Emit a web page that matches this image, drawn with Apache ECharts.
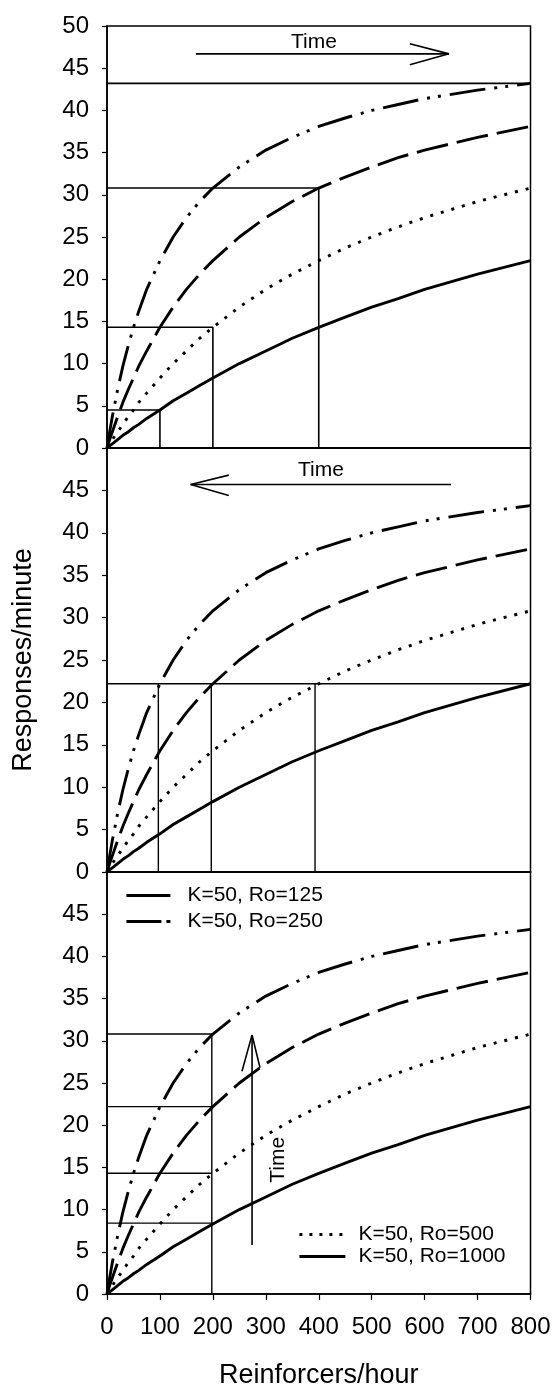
<!DOCTYPE html>
<html>
<head>
<meta charset="utf-8">
<script src="https://cdn.jsdelivr.net/npm/echarts@6/dist/echarts.min.js"></script>
<style>
  html, body { margin: 0; padding: 0; background: #fff; }
  #chart { width: 556px; height: 1391px; }
</style>
</head>
<body>
<div id="chart"></div>
<script>
// Reinforcement rate (reinforcers/hour) at which each curve is sampled
const reinforcers = [0, 5, 10, 20, 30, 40, 50, 60, 75, 100, 125, 150, 175, 200, 250, 300, 350, 400, 450, 500, 550, 600, 700, 800];

// Response rate (responses/minute) for each curve, K = 50
const ro125  = [0, 1.9, 3.7, 6.9, 9.7, 12.1, 14.3, 16.2, 18.8, 22.2, 25.0, 27.3, 29.2, 30.8, 33.3, 35.3, 36.8, 38.1, 39.1, 40.0, 40.7, 41.4, 42.4, 43.2];
const ro250  = [0, 1.0, 1.9, 3.7, 5.4, 6.9, 8.3, 9.7, 11.5, 14.3, 16.7, 18.8, 20.6, 22.2, 25.0, 27.3, 29.2, 30.8, 32.1, 33.3, 34.4, 35.3, 36.8, 38.1];
const ro500  = [0, 0.5, 1.0, 1.9, 2.8, 3.7, 4.5, 5.4, 6.5, 8.3, 10.0, 11.5, 13.0, 14.3, 16.7, 18.8, 20.6, 22.2, 23.7, 25.0, 26.2, 27.3, 29.2, 30.8];
const ro1000 = [0, 0.25, 0.5, 1.0, 1.5, 1.9, 2.4, 2.8, 3.5, 4.5, 5.6, 6.5, 7.4, 8.3, 10.0, 11.5, 13.0, 14.3, 15.5, 16.7, 17.7, 18.8, 20.6, 22.2];

const curveNames = ['K=50, Ro=125', 'K=50, Ro=250', 'K=50, Ro=500', 'K=50, Ro=1000'];

// Guide lines (data coordinates) for each panel
const guidesTop = [
  [[0, 43.2], [800, 43.2]],
  [[0, 30.8], [400, 30.8], [400, 0]],
  [[0, 14.3], [200, 14.3], [200, 0]],
  [[0, 4.5], [100, 4.5], [100, 0]]
];
const guidesMiddle = [
  [[0, 22.2], [800, 22.2]],
  [[97, 22.2], [97, 0]],
  [[197, 22.2], [197, 0]],
  [[393, 22.2], [393, 0]]
];
const guidesBottom = [
  [[0, 30.8], [198, 30.8], [198, 0]],
  [[0, 22.2], [198, 22.2]],
  [[0, 14.3], [198, 14.3]],
  [[0, 8.4], [198, 8.4]]
];

// "Time" arrows: shaft and open head, per panel
const arrowTop = [
  [[168, 46.7], [646, 46.7]],
  [[572, 47.9], [646, 46.7], [572, 45.4]]
];
const arrowMiddle = [
  [[650, 45.7], [158, 45.7]],
  [[230, 46.8], [158, 45.7], [230, 44.4]]
];
const arrowBottom = [
  [[274, 5.8], [274, 30.7]],
  [[255, 26.4], [274, 30.7], [289, 26.8]]
];
const timeLabelTop = [391, 48.1];
const timeLabelMiddle = [404, 47.4];
const timeLabelBottom = [324, 15.9];

const FONT = 'Liberation Sans';
const INK = '#000';

const curveDash = [
  [36, 9, 3, 8, 3, 9],
  [32, 9],
  [3, 8],
  'solid'
];
const curveValues = [ro125, ro250, ro500, ro1000];

function pairs(values) {
  return reinforcers.map((x, i) => [x, values[i]]);
}

const series = [];
[0, 1, 2].forEach(function (g) {
  curveValues.forEach(function (vals, k) {
    series.push({
      name: curveNames[k],
      type: 'line',
      xAxisIndex: g,
      yAxisIndex: g,
      data: pairs(vals),
      symbol: 'none',
      silent: true,
      z: 3,
      itemStyle: { color: INK },
      lineStyle: { color: INK, width: 2.9, type: curveDash[k], cap: 'butt', join: 'round' }
    });
  });
});

function addPolylines(list, g, width) {
  list.forEach(function (pts) {
    series.push({
      type: 'line',
      xAxisIndex: g,
      yAxisIndex: g,
      data: pts,
      symbol: 'none',
      silent: true,
      z: 2,
      itemStyle: { color: INK },
      lineStyle: { color: INK, width: width, type: 'solid' }
    });
  });
}
addPolylines(guidesTop, 0, 1.6);
addPolylines(guidesMiddle, 1, 1.4);
addPolylines(guidesBottom, 2, 1.4);
addPolylines(arrowTop, 0, 1.6);
addPolylines(arrowMiddle, 1, 1.6);
addPolylines(arrowBottom, 2, 1.6);

function addLabel(pos, g, rotate) {
  series.push({
    type: 'scatter',
    xAxisIndex: g,
    yAxisIndex: g,
    data: [pos],
    symbolSize: 0.001,
    itemStyle: { color: 'rgba(0,0,0,0)', opacity: 1 },
    silent: true,
    z: 4,
    label: {
      show: true,
      position: 'inside',
      formatter: 'Time',
      rotate: rotate || 0,
      color: INK,
      opacity: 1,
      textBorderWidth: 0,
      fontFamily: FONT,
      fontSize: 21
    }
  });
}
addLabel(timeLabelTop, 0);
addLabel(timeLabelMiddle, 1);
addLabel(timeLabelBottom, 2, 90);

const grids = [
  { left: 107, right: 25.5, top: 26, height: 422 },
  { left: 107, right: 25.5, top: 448, height: 424 },
  { left: 107, right: 25.5, top: 872, height: 422 }
].map(g => Object.assign(g, { show: true, borderColor: INK, borderWidth: 1.5, backgroundColor: 'transparent' }));

const xAxes = [0, 1, 2].map(function (g) {
  const bottom = g === 2;
  return {
    type: 'value',
    gridIndex: g,
    min: 0,
    max: 800,
    interval: 100,
    splitLine: { show: false },
    axisLine: { show: true, onZero: false, lineStyle: { color: INK, width: 1.6 } },
    axisTick: { show: bottom, length: 6, lineStyle: { color: INK, width: 1.2 } },
    axisLabel: { show: bottom, margin: 21, color: INK, fontFamily: FONT, fontSize: 24 },
    name: bottom ? 'Reinforcers/hour' : '',
    nameLocation: 'middle',
    nameGap: 68,
    nameTextStyle: { color: INK, fontFamily: FONT, fontSize: 27 }
  };
});

const yAxes = [0, 1, 2].map(function (g) {
  return {
    type: 'value',
    gridIndex: g,
    min: 0,
    max: 50,
    interval: 5,
    splitLine: { show: false },
    axisLine: { show: true, onZero: false, lineStyle: { color: INK, width: 1.6 } },
    axisTick: { show: true, length: 5, lineStyle: { color: INK, width: 1.2 } },
    axisLabel: { margin: 18, color: INK, fontFamily: FONT, fontSize: 24, showMaxLabel: g === 0 },
    name: g === 1 ? 'Responses/minute' : '',
    nameLocation: 'middle',
    nameGap: 70,
    nameRotate: 90,
    nameTextStyle: { color: INK, fontFamily: FONT, fontSize: 27 }
  };
});

const legendText = { color: INK, fontFamily: FONT, fontSize: 21 };
// legend samples are plain line strokes, no point marker
const noMarker = { opacity: 0 };

const option = {
  backgroundColor: '#fff',
  animation: false,
  grid: grids,
  xAxis: xAxes,
  yAxis: yAxes,
  legend: [
    {
      orient: 'vertical',
      left: 125,
      top: 885,
      padding: 0,
      itemGap: 5,
      itemWidth: 44,
      itemHeight: 12,
      selectedMode: false,
      textStyle: Object.assign({ padding: [0, 0, 0, 12] }, legendText),
      data: [
        { name: curveNames[0], itemStyle: noMarker, lineStyle: { type: 'solid', width: 2.8, color: INK } },
        { name: curveNames[1], itemStyle: noMarker, lineStyle: { type: [35, 5, 5, 10], width: 2.8, color: INK } }
      ]
    },
    {
      orient: 'vertical',
      left: 298,
      top: 1224,
      padding: 0,
      itemGap: 1,
      itemWidth: 46,
      itemHeight: 12,
      selectedMode: false,
      textStyle: Object.assign({ padding: [0, 0, 0, 8] }, legendText),
      data: [
        { name: curveNames[2], itemStyle: noMarker, lineStyle: { type: [3, 7], width: 2.8, color: INK } },
        { name: curveNames[3], itemStyle: noMarker, lineStyle: { type: 'solid', width: 2.8, color: INK } }
      ]
    }
  ],
  series: series
};

const chart = echarts.init(document.getElementById('chart'), null, { renderer: 'canvas' });
chart.setOption(option);
</script>
</body>
</html>
